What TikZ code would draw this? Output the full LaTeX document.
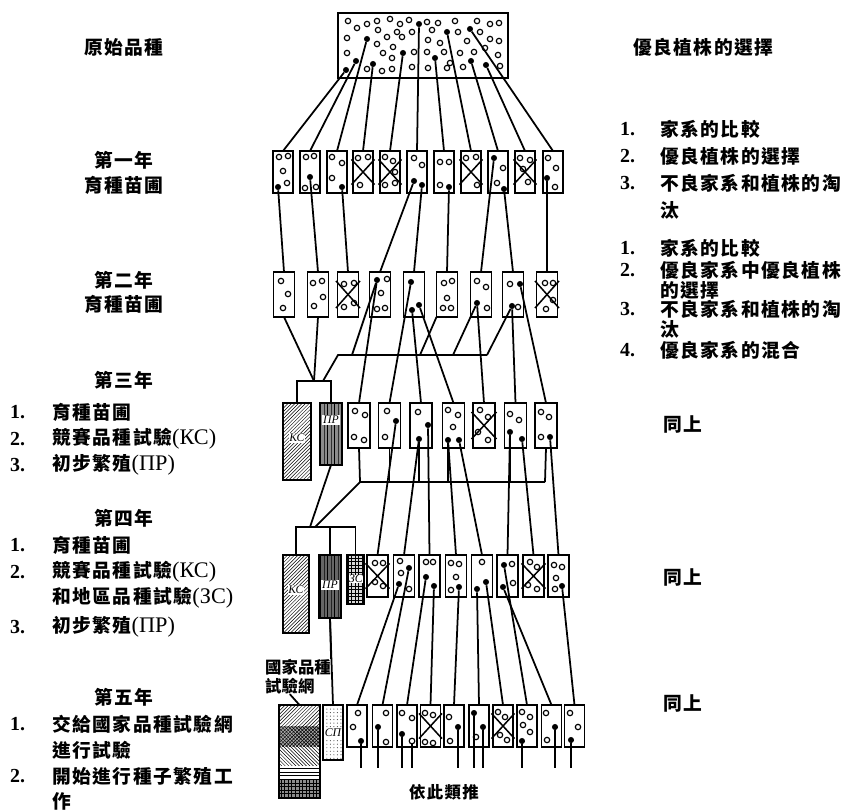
\documentclass[tikz,border=0pt]{standalone}
\usepackage{fontspec}
\setmainfont{Liberation Serif}
\newfontfamily\cjk[LetterSpace=8]{Noto Sans CJK TC}
\newfontfamily\cjkn{Noto Sans CJK TC}
\usetikzlibrary{patterns,calc}
\newcommand\crossit[1]{\draw[line width=1.3pt] ($(#1.north west)!0.2!(#1.south west)+(-1.5,0)$) -- ($(#1.south east)!0.2!(#1.north east)+(1.5,0)$) ($(#1.north east)!0.2!(#1.south east)+(1.5,0)$) -- ($(#1.south west)!0.2!(#1.north west)+(-1.5,0)$);}
\newcommand\ocs[1]{\foreach \x/\y in {#1} {\draw[oc] (\x,\y) circle[radius=2.3pt];}}
\newcommand\lat[1]{{\rmfamily\mdseries\fontsize{19}{20}\selectfont #1}}
\begin{document}
\begin{tikzpicture}[x=0.03cm,y=-0.03cm,
  fam/.style={draw,line width=1.6pt,inner sep=0pt,outer sep=0pt},
  r1/.style={fam,minimum width=0.6cm,minimum height=1.26cm},
  r2/.style={fam,minimum width=0.63cm,minimum height=1.35cm},
  r3/.style={fam,minimum width=0.66cm,minimum height=1.35cm},
  r4/.style={fam,minimum width=0.63cm,minimum height=1.26cm},
  r5/.style={fam,minimum width=0.6cm,minimum height=1.26cm},
  ln/.style={line width=1.5pt},
  dot/.style={circle,fill,inner sep=0pt,minimum size=5.2pt},
  hol/.style={circle,draw,fill=white,line width=1pt,inner sep=0pt,minimum size=4.8pt},
  oc/.style={line width=1pt},
  zh/.style={font=\cjk\bfseries\fontsize{16}{20}\selectfont,inner sep=0pt},
  zhw/.style={zh,anchor=west},
  nm/.style={font=\bfseries\fontsize{17}{20}\selectfont,inner sep=0pt,anchor=west},
  lb/.style={fill=white,inner sep=0.8pt,font=\itshape\fontsize{10}{10}\selectfont},
]
\useasboundingbox (0,0) rectangle (850,811);

% ---------- texts left ----------
\node[zh] (h0) at (124,47) {原始品種};
\node[zh] (h1) at (124,160) {第一年};
\node[zh] (h1b) at (124,185) {育種苗圃};
\node[zh] (h2) at (124,280) {第二年};
\node[zh] (h2b) at (124,304) {育種苗圃};
\node[zh] (h3) at (124,380) {第三年};
\node[nm] (n31) at (10,412) {1.};
\node[zhw] (t31) at (52,412) {育種苗圃};
\node[nm] (n32) at (10,439) {2.};
\node[zhw] (t32) at (52,439) {競賽品種試驗\lat{(КС)}};
\node[nm] (n33) at (10,465) {3.};
\node[zhw] (t33) at (52,465) {初步繁殖\lat{(ПР)}};
\node[zh] (h4) at (124,518) {第四年};
\node[nm] (n41) at (10,545) {1.};
\node[zhw] (t41) at (52,545) {育種苗圃};
\node[nm] (n42) at (10,572) {2.};
\node[zhw] (t42) at (52,572) {競賽品種試驗\lat{(КС)}};
\node[zhw] (t42b) at (52,598) {和地區品種試驗\lat{(ЗС)}};
\node[nm] (n43) at (10,627) {3.};
\node[zhw] (t43) at (52,627) {初步繁殖\lat{(ПР)}};
\node[zh] (h5) at (124,697) {第五年};
\node[nm] (n51) at (10,724) {1.};
\node[zhw] (t51) at (52,724) {交給國家品種試驗網};
\node[zhw] (t51b) at (52,750) {進行試驗};
\node[nm] (n52) at (10,776) {2.};
\node[zhw] (t52) at (52,776) {開始進行種子繁殖工};
\node[zhw] (t52b) at (52,801) {作};

% ---------- texts right ----------
\node[zhw] (g0) at (633,47) {優良植株的選擇};
\node[nm] (m11) at (620,129) {1.};
\node[zhw] (s11) at (660,129) {家系的比較};
\node[nm] (m12) at (620,156) {2.};
\node[zhw] (s12) at (660,156) {優良植株的選擇};
\node[nm] (m13) at (620,183) {3.};
\node[zhw] (s13) at (660,183) {不良家系和植株的淘};
\node[zhw] (s13b) at (660,210) {汰};
\node[nm] (m21) at (620,248) {1.};
\node[zhw] (s21) at (660,248) {家系的比較};
\node[nm] (m22) at (620,270) {2.};
\node[zhw] (s22) at (660,270) {優良家系中優良植株};
\node[zhw] (s22b) at (660,290) {的選擇};
\node[nm] (m23) at (620,309) {3.};
\node[zhw] (s23) at (660,309) {不良家系和植株的淘};
\node[zhw] (s23b) at (660,329) {汰};
\node[nm] (m24) at (620,350) {4.};
\node[zhw] (s24) at (660,350) {優良家系的混合};
\node[zhw] (same3) at (663,424) {同上};
\node[zhw] (same4) at (663,577) {同上};
\node[zhw] (same5) at (663,703) {同上};

% ---------- top box ----------
\node[fam,line width=1.9pt,minimum width=5.1cm,minimum height=1.95cm] (top) at (423,45.5) {};
\ocs{348/21,367/24,377/21,390/19,400/24,409/20,427/22,438/23,455/21,477/21,490/24,499/23,
357/28,378/30,397/32,412/32,432/30,458/32,480/32,
347/38,387/37,402/37,428/40,440/43,467/41,490/39,499/41,
377/44,393/47,414/52,427/52,444/52,460/53,474/52,498/55,
347/53,383/53,392/58,450/63,485/48,
367/69,382/71,392/69,412/67,428/68,447/68,463/67,500/66}
\node[dot] (t1) at (346,70) {};
\node[dot] (t2) at (356,61) {};
\node[dot] (t3) at (367,39) {};
\node[dot] (t4) at (373,64) {};
\node[dot] (t5) at (403,53) {};
\node[dot] (t6) at (419,24) {};
\node[dot] (t7) at (435,58) {};
\node[dot] (t8) at (447,32) {};
\node[dot] (t9) at (470,29) {};
\node[dot] (t10) at (471,61) {};
\node[dot] (t11) at (486,65) {};

% ---------- row 1 ----------
\foreach \i/\x in {1/283,2/310,3/337,4/363,5/390,6/417,7/444,8/471,9/498,10/525,11/553}
  {\node[r1] (r1b\i) at (\x,172) {};}
\ocs{279/157,288/156,283/171,287/183, 306/157,314/156,305/188,316/187, 332/157,342/163,332/178,
358/158,368/157,360/185, 385/157,393/161,395/172,385/185,395/183, 414/158,422/165,
440/162,449/162,440/185, 466/158,476/157,477/185, 503/168,497/183,
520/158,530/160,523/169,528/182, 548/158,556/168,555/187}
\foreach \b in {4,5,8,10} {\crossit{r1b\b}}
\node[dot] (a1) at (278,187) {};
\node[dot] (a2) at (310,177) {};
\node[dot] (a3) at (342,187) {};
\node[dot] (a6) at (414,181) {};
\node[dot] (a6b) at (422,185) {};
\node[dot] (a7) at (449,187) {};
\node[dot] (a9) at (494,158) {};
\node[dot] (a9b) at (504,189) {};
\node[dot] (a11) at (547,178) {};

\draw[ln] (t1) -- (r1b1.north);
\draw[ln] (t2) -- (r1b2.north);
\draw[ln] (t3) -- (r1b3.north);
\draw[ln] (t4) -- (r1b4.north);
\draw[ln] (t5) -- (r1b5.north);
\draw[ln] (t6) -- (r1b6.north);
\draw[ln] (t7) -- (r1b7.north);
\draw[ln] (t8) -- (r1b8.north);
\draw[ln] (t10) -- (r1b9.north);
\draw[ln] (t11) -- (r1b10.north);
\draw[ln] (t9) -- (r1b11.north);

% ---------- row 2 ----------
\foreach \i/\x in {1/284,2/318,3/348,4/380,5/414,6/447,7/481,8/513,9/547}
  {\node[r2] (r2b\i) at (\x,294.5) {};}
\ocs{281/281,288/294,283/308, 313/283,322/281,323/297,314/306, 344/284,354/283,344/307,354/303,
387/279,381/293,377/309,385/308, 444/283,452/281,447/298,443/308,451/308,
477/281,486/287,487/308, 510/284,518/307, 545/283,553/283,553/300,546/309}
\foreach \b in {3,9} {\crossit{r2b\b}}
\node[dot] (c4) at (377,280) {};
\node[dot] (c5a) at (411,282) {};
\node[dot] (c5b) at (412,310) {};
\node[dot] (c5c) at (419,305) {};
\node[dot] (c7) at (477,303) {};
\node[dot] (c8a) at (512,306) {};
\node[dot] (c8b) at (520,284) {};

\draw[ln] (a1) -- (r2b1.north);
\draw[ln] (a2) -- (r2b2.north);
\draw[ln] (a3) -- (r2b3.north);
\draw[ln] (a6) -- (r2b4.north);
\draw[ln] (a6b) -- (r2b5.north);
\draw[ln] (a7) -- (r2b6.north);
\draw[ln] (a9) -- (r2b7.north);
\draw[ln] (a9b) -- (r2b8.north);
\draw[ln] (a11) -- (r2b9.north);

% ---------- row 3 ----------
\foreach \i/\x in {1/359,2/389.5,3/421,4/453.5,5/484,6/515.5,7/546}
  {\node[r3] (r3b\i) at (\x,425.5) {};}
\node[fam,pattern=north east lines,minimum width=0.84cm,minimum height=2.31cm] (kc3) at (297,441.5) {};
\node[fam,fill=black!45,minimum width=0.66cm,minimum height=1.86cm] (pr3) at (331,434) {};
\fill[pattern=vertical lines] (pr3.south west) rectangle (pr3.north east);
\draw[line width=1.6pt] (pr3.south west) rectangle (pr3.north east);
\node[lb] (kc3l) at (297,438) {КС};
\node[lb] (pr3l) at (331,420) {ПР};
\ocs{355/411,365/415,354/437,364/440, 387/411,385/437, 418/412, 448/410,458/415,453/427,
480/410,488/417,478/432,488/440, 510/414,519/420, 541/412,549/417,541/437}
\crossit{r3b5}
\node[dot] (e2) at (396,421) {};
\node[dot] (e3a) at (428,425) {};
\node[dot] (e3b) at (419,439) {};
\node[dot] (e4a) at (448,440) {};
\node[dot] (e4b) at (459,440) {};
\node[dot] (e6a) at (510,432) {};
\node[dot] (e6b) at (522,439) {};
\node[dot] (e7) at (550,437) {};

% connections row2 -> row3
\coordinate (j3) at (314,381);
\coordinate (j3b) at (323,381);
\coordinate (b2L) at (338,355);
\coordinate (b2R) at (487,355);
\coordinate (b2a) at (352,355);
\coordinate (b2b) at (420,355);
\coordinate (b2c) at (453,355);
\draw[ln] (r2b1.south) -- (j3);
\draw[ln] (r2b2.south) -- (j3);
\draw[ln] (j3b) -- (b2L) -- (b2R);
\draw[ln] (kc3.north) -- (kc3.north |- j3) -- (pr3.north |- j3) -- (pr3.north);
\draw[ln] (c4) -- (b2a);
\draw[ln] (c4) -- (r3b1.north);
\draw[ln] (c5a) -- (r3b2.north);
\draw[ln] (c5b) -- (r3b3.north);
\draw[ln] (c5c) -- (r3b4.north);
\draw[ln] (r2b6.south west) -- (b2b);
\draw[ln] (c7) -- (b2c);
\draw[ln] (c7) -- (r3b5.north);
\draw[ln] (c8a) -- (b2R);
\draw[ln] (c8a) -- (r3b6.north);
\draw[ln] (c8b) -- (r3b7.north);

% ---------- row 4 ----------
\foreach \i/\x in {1/377.5,2/404,3/429.5,4/456,5/482,6/507.5,7/533.5,8/558.5}
  {\node[r4] (r4b\i) at (\x,576) {};}
\node[fam,pattern=north east lines,minimum width=0.78cm,minimum height=2.34cm] (kc4) at (296,594) {};
\node[fam,fill=black!60,minimum width=0.66cm,minimum height=1.89cm] (pr4) at (330,586.5) {};
\fill[pattern=vertical lines] (pr4.south west) rectangle (pr4.north east);
\draw[line width=1.6pt] (pr4.south west) rectangle (pr4.north east);
\node[fam,fill=black!15,minimum width=0.51cm,minimum height=1.47cm] (zc4) at (355.5,579.5) {};
\fill[pattern=grid] (zc4.south west) rectangle (zc4.north east);
\draw[line width=1.6pt] (zc4.south west) rectangle (zc4.north east);
\node[lb] (kc4l) at (296,590) {КС};
\node[lb] (pr4l) at (330,585) {ПР};
\node[lb,inner sep=0.3pt] (zc4l) at (356,579) {ЗС};
\ocs{375/563,383/563,375/582,383/586, 400/561,401/573,409/589, 426/562,433/562,
451/563,459/564,456/577,451/590, 482/562, 512/564,513/583,
530/562,537/567,528/585,537/589, 554/565,562/567,556/578,555/589}
\foreach \b in {1,7} {\crossit{r4b\b}}
\node[dot] (g2a) at (399,584) {};
\node[dot] (g2b) at (409,568) {};
\node[dot] (g3a) at (426,577) {};
\node[dot] (g3b) at (434,586) {};
\node[dot] (g4) at (459,587) {};
\node[dot] (g5a) at (477,589) {};
\node[dot] (g5b) at (486,582) {};
\node[dot] (g6a) at (504,565) {};
\node[dot] (g6b) at (503,587) {};
\node[dot] (g8) at (562,586) {};

% connections row3 -> row4
\coordinate (b3L) at (360,482);
\coordinate (b3R) at (545,482);
\coordinate (j4) at (315,527);
\coordinate (j4b) at (310,527);
\draw[ln] (b3L) -- (b3R);
\draw[ln] (r3b1.south) -- (b3L);
\draw[ln] (r3b2.south) -- (r3b2.south |- b3L);
\draw[ln] (e3b) -- (e3b |- b3L);
\draw[ln] (e4a) -- (e4a |- b3L);
\draw[ln] (e6a) -- (e6a |- b3L);
\draw[ln] (r3b7.south) -- (b3R);
\draw[ln] (b3L) -- (j4);
\draw[ln] (pr3.south) -- (j4b);
\draw[ln] (kc4.north) -- (kc4.north |- j4) -- (zc4.north |- j4) -- (zc4.north);
\draw[ln] (pr4.north |- j4) -- (pr4.north);
\draw[ln] (e2) -- (r4b1.north);
\draw[ln] (e3b) -- (r4b2.north);
\draw[ln] (e3a) -- (r4b3.north);
\draw[ln] (e4a) -- (r4b4.north);
\draw[ln] (e4b) -- (r4b5.north);
\draw[ln] (e6a) -- (r4b6.north);
\draw[ln] (e6b) -- (r4b7.north);
\draw[ln] (e7) -- (r4b8.north);

% ---------- row 5 ----------
\foreach \i/\x in {1/357,2/382.5,3/407,4/430.5,5/454,6/479,7/503,8/527,9/551.5,10/574.5}
  {\node[r5] (r5b\i) at (\x,726) {};}
\fill[pattern=north east lines] (279,705) rectangle (320,726);
\fill[black!35] (279,726) rectangle (320,746);
\fill[pattern=crosshatch] (279,726) rectangle (320,746);
\fill[pattern=north west lines] (279,746) rectangle (320,765);
\fill[pattern=horizontal lines] (279,765) rectangle (320,779);
\fill[black!45] (279,779) rectangle (320,798);
\fill[pattern=grid] (279,779) rectangle (320,798);
\node[fam,minimum width=1.23cm,minimum height=2.79cm] (st) at (299.5,751.5) {};
\node[fam,pattern=dots,pattern color=black!70,minimum width=0.6cm,minimum height=1.65cm] (sp) at (333,732.5) {};
\node[lb] (spl) at (333,733) {СП};
\node[font=\cjkn\bfseries\fontsize{14}{17}\selectfont,inner sep=0pt,anchor=west] (lab1) at (265,667) {國家品種};
\node[font=\cjkn\bfseries\fontsize{14}{17}\selectfont,inner sep=0pt,anchor=west] (lab2) at (265,686) {試驗網};
\ocs{358/713,353/727, 386/713,386/742, 402/713,412/718, 425/713,433/715,425/742,433/743,
449/717,450/741, 476/737, 498/712,505/717,500/735,507/740, 522/712,530/717,523/725,530/732,
546/713,547/740, 570/713,578/727}
\foreach \b in {4,7} {\crossit{r5b\b}}
\node[dot] (h1) at (361,741) {};
\node[dot] (h2) at (378,727) {};
\node[dot] (h3) at (402,734) {};
\node[hol] (h3b) at (412,741) {};
\node[dot] (h5) at (458,727) {};
\node[dot] (h6a) at (474,713) {};
\node[dot] (h6b) at (483,727) {};
\node[dot] (h8) at (522,741) {};
\node[dot] (h9) at (555,727) {};
\node[dot] (h10) at (571,740) {};

% connections row4 -> row5
\draw[ln] (g2a) -- (r5b1.north);
\draw[ln] (g2b) -- (r5b2.north);
\draw[ln] (g3a) -- (r5b3.north);
\draw[ln] (g3b) -- (r5b4.north);
\draw[ln] (g4) -- (r5b5.north);
\draw[ln] (g5a) -- (r5b6.north);
\draw[ln] (g5b) -- (r5b7.north);
\draw[ln] (g6a) -- (r5b8.north);
\draw[ln] (g6b) -- (r5b9.north);
\draw[ln] (g8) -- (r5b10.north);
\draw[ln] (pr4.south) -- (lab1.north east);
\draw[ln] (pr4.south) -- (sp.north);
\draw[ln] (lab2.south) -- (st.north);

% tails
\coordinate (tail) at (0,768);
\foreach \d in {h1,h2,h3,h3b,h5,h6a,h6b,h8,h9,h10} {\draw[ln] (\d) -- (\d |- tail);}
\node[font=\cjk\bfseries\fontsize{14}{17}\selectfont,inner sep=0pt] (etc) at (444,792) {依此類推};
\end{tikzpicture}
\end{document}
